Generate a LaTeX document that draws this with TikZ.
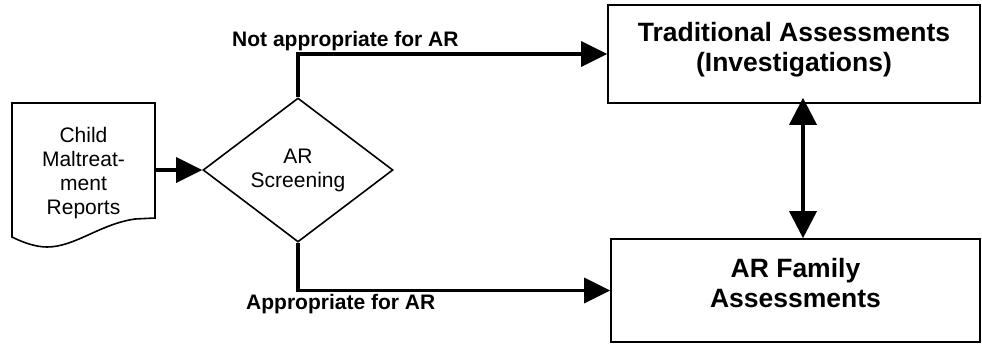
\documentclass[tikz,border=0pt]{standalone}
\usepackage{fontspec}
\setmainfont{Liberation Sans}
\usetikzlibrary{arrows.meta,shapes.geometric}
\begin{document}
\begin{tikzpicture}[x=1pt,y=-1pt,
  outline/.style={draw,line width=1.6pt},
  boxnode/.style={draw,line width=1.6pt,inner sep=0pt},
  flow/.style={line width=3.5pt,-{Triangle[length=26pt,width=25pt]}},
  both/.style={line width=3.5pt,{Triangle[length=27pt,width=27pt]}-{Triangle[length=27pt,width=27pt]}},
  reg/.style={font=\fontsize{21}{24}\selectfont},
  bigbold/.style={font=\fontsize{26.5}{30}\selectfont\bfseries},
  lab/.style={font=\fontsize{21}{24}\selectfont\bfseries,inner sep=0pt}]
\useasboundingbox (0,0) rectangle (982,345);
% document shape
\draw[outline] (12,103) -- (155,103) -- (155,218) -- (135,219)
  .. controls (100,224) and (75,247) .. (47,247)
  .. controls (35,247) and (22,242) .. (12,237) -- cycle;
\node[reg,align=center,inner sep=0pt,minimum width=143pt] (doc) at (83.5,173.5) {Child\\Maltreat-\\ment\\Reports};
% decision
\node[diamond,outline,minimum width=190pt,minimum height=144pt,inner sep=0pt,reg,align=center] (dia) at (298,170) {AR\\Screening};
% boxes
\node[boxnode,minimum width=372pt,minimum height=98pt,
  label={[bigbold,align=center,yshift=4pt]center:Traditional Assessments\\(Investigations)}] (trad) at (794,54) {};
\node[boxnode,minimum width=369pt,minimum height=103pt,
  label={[bigbold,align=center,yshift=7pt]center:AR Family\\Assessments}] (bot) at (795.5,290.5) {};
% connectors
\draw[flow] (doc.east |- dia.west) -- (dia.west);
\draw[flow] (dia.north) |- (trad.west);
\draw[flow] (dia.south) |- (bot.west);
\draw[both] ([xshift=9pt,yshift=6pt]trad.south) -- ([xshift=9pt]trad.south |- bot.north);
% labels
\node[lab,anchor=base west] (notlab) at (232,47) {Not appropriate for AR};
\node[lab,anchor=base west] (applab) at (246,309) {Appropriate for AR};
\end{tikzpicture}
\end{document}
